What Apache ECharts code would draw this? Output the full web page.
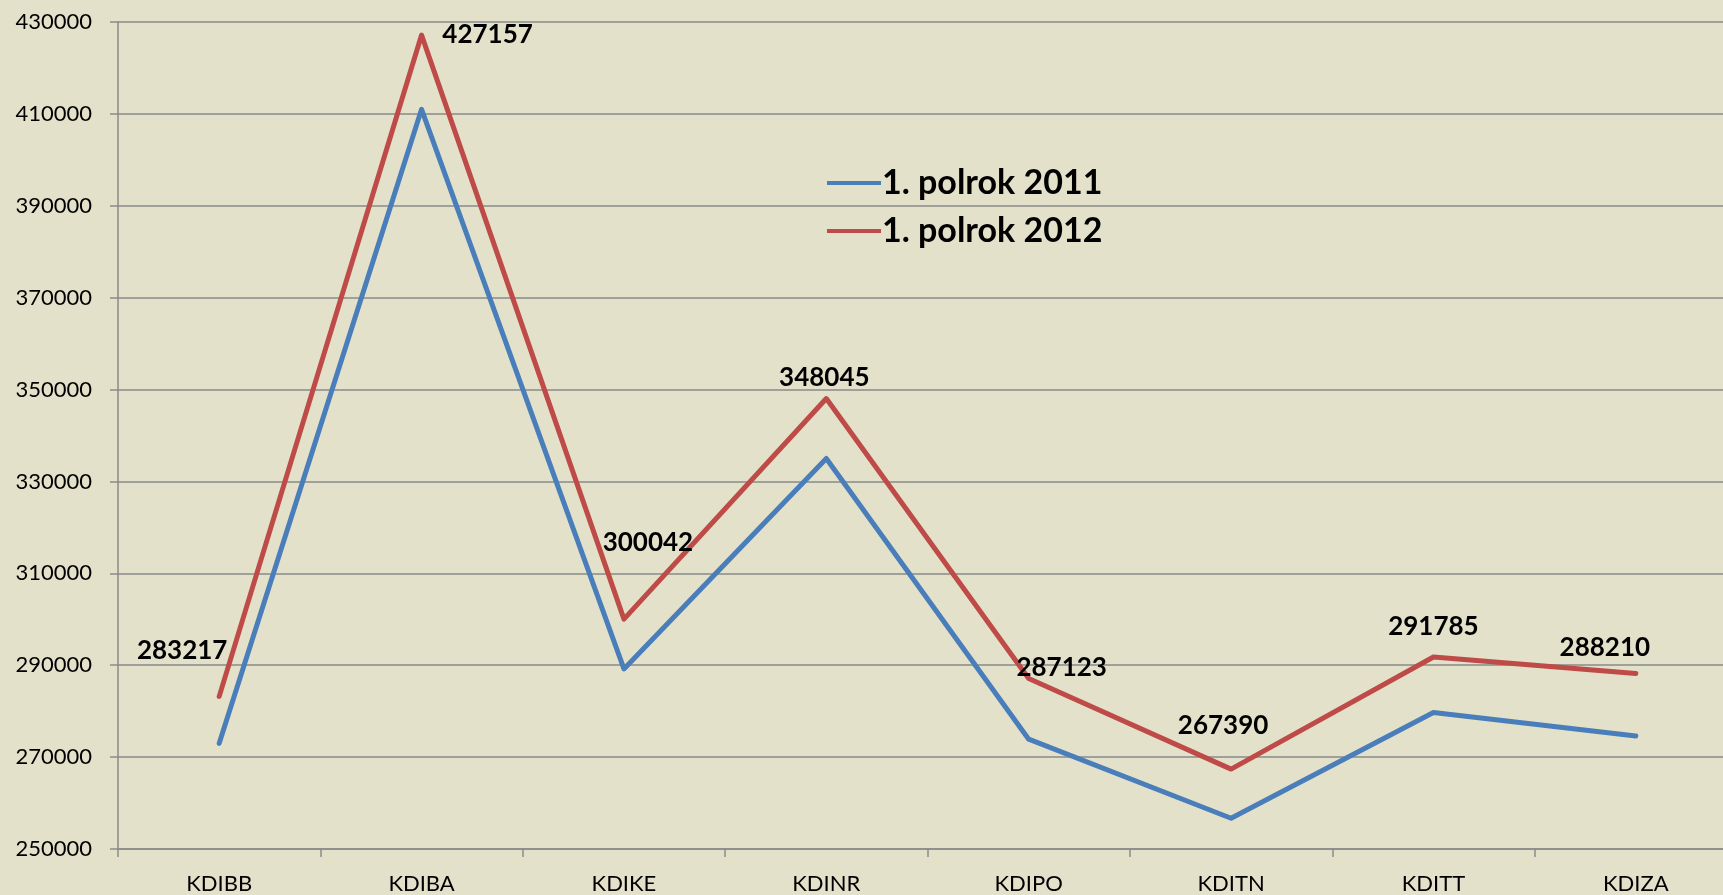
<!DOCTYPE html>
<html>
<head>
<meta charset="utf-8">
<script src="https://cdn.jsdelivr.net/npm/echarts@6/dist/echarts.min.js"></script>
<style>
  html, body { margin: 0; padding: 0; background: #e4e1ca; }
  #chart { width: 1723px; height: 895px; }
</style>
</head>
<body>
<div id="chart"></div>
<script>
// kategórie a hodnoty
var categories = ['KDIBB', 'KDIBA', 'KDIKE', 'KDINR', 'KDIPO', 'KDITN', 'KDITT', 'KDIZA']
var seriesNames = ['1. polrok 2011', '1. polrok 2012']
var values2011 = [273000, 411000, 289200, 335000, 273900, 256700, 279700, 274600]
var values2012 = [283217, 427157, 300042, 348045, 287123, 267390, 291785, 288210]

// posun popiskov (px) voci bodu
var labelShift = [[-37, -46], [66, 0], [24, -76], [-2, -21], [33, -11], [-8, -43], [0, -30], [-31, -26]]

var chart = echarts.init(document.getElementById('chart'))

var font = 'Lato, "Open Sans", sans-serif'

chart.setOption({
  backgroundColor: '#e4e1ca',
  animation: false,
  textStyle: { fontFamily: font },
  legend: {
    left: 822,
    top: 161,
    orient: 'vertical',
    icon: 'path://M0,0 L57,0 L57,4 L0,4 Z',
    itemWidth: 54,
    itemHeight: 4,
    itemGap: 14,
    data: seriesNames,
    textStyle: {
      fontSize: 34,
      fontWeight: 'bold',
      color: '#000',
      fontFamily: font,
      padding: [0, 0, 0, -4]
    }
  },
  grid: {
    left: 118,
    width: 1619,
    top: 22,
    bottom: 46,
    containLabel: false,
    outerBoundsMode: 'none'
  },
  xAxis: {
    type: 'category',
    boundaryGap: true,
    data: categories,
    axisLine: { lineStyle: { color: '#8a8a8a', width: 1.5 } },
    axisTick: { show: true, length: 8, lineStyle: { color: '#8a8a8a', width: 1.5 } },
    axisLabel: { color: '#000', fontSize: 22, margin: 24, fontFamily: font }
  },
  yAxis: {
    type: 'value',
    min: 250000,
    max: 430000,
    interval: 20000,
    axisLine: { show: true, lineStyle: { color: '#8a8a8a', width: 1.5 } },
    axisTick: { show: true, length: 8, lineStyle: { color: '#8a8a8a', width: 1.5 } },
    axisLabel: {
      color: '#000',
      fontSize: 22,
      margin: 26,
      fontFamily: font,
      formatter: function (v) { return String(v) }
    },
    splitLine: { lineStyle: { color: '#8a8a8a', width: 1.5 } }
  },
  series: [{
    name: seriesNames[0],
    type: 'line',
    data: values2011,
    symbol: 'circle',
    symbolSize: 1,
    showSymbol: true,
    lineStyle: { color: '#4a7ebb', width: 5, cap: 'round', join: 'round' },
    itemStyle: { color: '#4a7ebb' }
  }, {
    name: seriesNames[1],
    type: 'line',
    data: values2012.map(function (v, i) {
      return {
        value: v,
        label: { offset: labelShift[i] }
      }
    }),
    symbol: 'circle',
    symbolSize: 1,
    showSymbol: true,
    lineStyle: { color: '#be4b48', width: 5, cap: 'round', join: 'round' },
    itemStyle: { color: '#be4b48' },
    label: {
      show: true,
      position: 'inside',
      align: 'center',
      verticalAlign: 'middle',
      fontSize: 26,
      fontWeight: 'bold',
      color: '#000',
      fontFamily: font
    }
  }]
})
</script>
</body>
</html>
